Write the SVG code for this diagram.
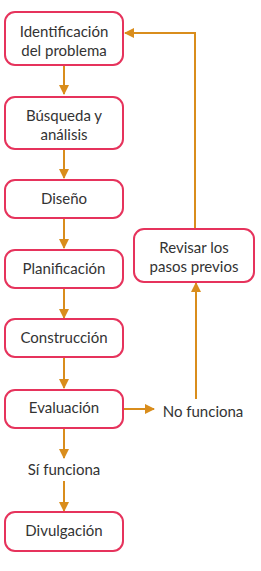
<svg xmlns="http://www.w3.org/2000/svg" width="261" height="571" viewBox="0 0 261 571">
<style>
.box{fill:#fff;stroke:#e6335c;stroke-width:2}
.t{font-family:Lato,"Noto Sans",sans-serif;font-size:15px;fill:#333;text-anchor:middle}
.c{fill:none;stroke:#d98d1c;stroke-width:2}
</style>
<defs>
<marker id="ah" markerWidth="10" markerHeight="10" refX="9" refY="5" orient="auto" markerUnits="userSpaceOnUse">
<path d="M0,0 L10,5 L0,10 Z" fill="#d98d1c"/>
</marker>
</defs>
<rect width="261" height="571" fill="#fff"/>
<g id="connectors">
<line class="c" x1="64" y1="66" x2="64" y2="94" marker-end="url(#ah)"/>
<line class="c" x1="64" y1="150" x2="64" y2="178" marker-end="url(#ah)"/>
<line class="c" x1="64" y1="219" x2="64" y2="248" marker-end="url(#ah)"/>
<line class="c" x1="64" y1="289" x2="64" y2="318" marker-end="url(#ah)"/>
<line class="c" x1="64" y1="358" x2="64" y2="388" marker-end="url(#ah)"/>
<line class="c" x1="64" y1="429" x2="64" y2="458" marker-end="url(#ah)"/>
<line class="c" x1="64" y1="481" x2="64" y2="511" marker-end="url(#ah)"/>
<line class="c" x1="124" y1="409" x2="154" y2="409" marker-end="url(#ah)"/>
<line class="c" x1="196" y1="399" x2="196" y2="283" marker-end="url(#ah)"/>
<polyline class="c" points="195,228 195,33 125,33" marker-end="url(#ah)"/>
</g>
<g id="n1"><rect class="box" x="5" y="12" width="118" height="53" rx="10"/><text class="t" x="64" y="37">Identificación</text><text class="t" x="64" y="56">del problema</text></g>
<g id="n2"><rect class="box" x="5" y="97" width="118" height="52" rx="10"/><text class="t" x="64" y="121">Búsqueda y</text><text class="t" x="64" y="140">análisis</text></g>
<g id="n3"><rect class="box" x="5" y="180" width="118" height="38" rx="10"/><text class="t" x="64" y="204">Diseño</text></g>
<g id="n4"><rect class="box" x="5" y="250" width="118" height="38" rx="10"/><text class="t" x="64" y="274">Planificación</text></g>
<g id="n5"><rect class="box" x="5" y="319" width="118" height="38" rx="10"/><text class="t" x="64" y="343">Construcción</text></g>
<g id="n6"><rect class="box" x="5" y="390" width="118" height="38" rx="10"/><text class="t" x="64" y="413">Evaluación</text></g>
<g id="n7"><text class="t" x="64" y="475">Sí funciona</text></g>
<g id="n8"><rect class="box" x="5" y="512" width="118" height="39" rx="10"/><text class="t" x="64" y="536">Divulgación</text></g>
<g id="n9"><text class="t" x="203" y="417">No funciona</text></g>
<g id="n10"><rect class="box" x="134" y="229" width="120" height="53" rx="10"/><text class="t" x="194" y="253">Revisar los</text><text class="t" x="194" y="272">pasos previos</text></g>
</svg>
